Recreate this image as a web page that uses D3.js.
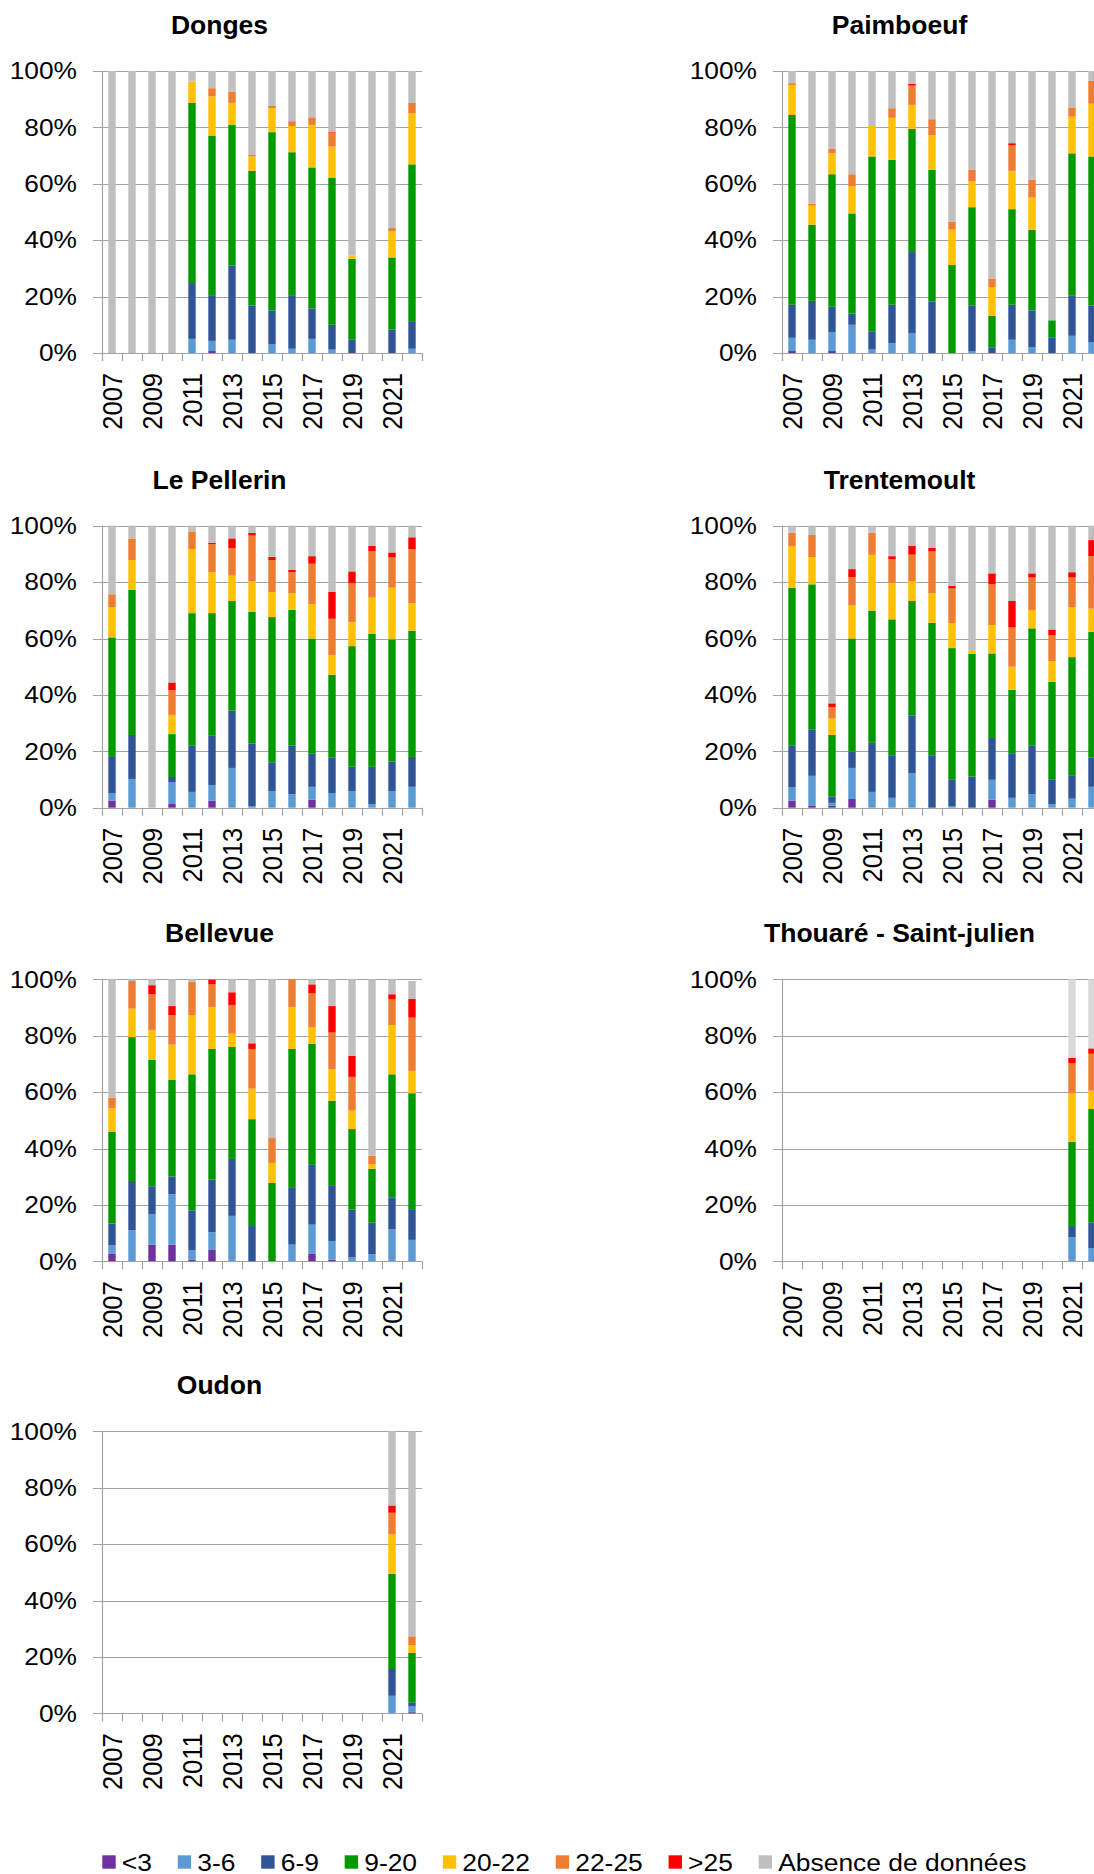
<!DOCTYPE html>
<html><head><meta charset="utf-8">
<script src="https://cdn.jsdelivr.net/npm/d3@7"></script>
<style>
body{margin:0;background:#fff}
svg{display:block}
text{font-family:"Liberation Sans",Arial,Helvetica,sans-serif;fill:#000}
</style>
</head><body>
<svg id="chart" width="1094" height="1874"></svg>
<script>
// ---------- DATA ----------
const years = ["2007","2008","2009","2010","2011","2012","2013","2014","2015","2016","2017","2018","2019","2020","2021","2022"];
const yearLabels = ["2007","2009","2011","2013","2015","2017","2019","2021"];
const yTicks = [0,20,40,60,80,100];
const seriesLabels = ["<3","3-6","6-9","9-20","20-22","22-25",">25","Absence de données"];
const seriesColors = ["#7030A0","#5B9BD5","#2F5597","#009900","#FFC000","#ED7D31","#FF0000","#BFBFBF"];
const siteNames = ["Donges","Paimboeuf","Le Pellerin","Trentemoult","Bellevue","Thouaré - Saint-julien","Oudon"];

// each site: one row per series (same order as seriesLabels), one value (%) per year
const donges = [
  [0,0,0,0,0,0.7,0,0,0,0,0,0,0,0,0,0],
  [0,0,0,0,5.0,3.6,4.7,0,3.1,1.5,5.0,1.2,0,0,0,1.5],
  [0,0,0,0,19.8,16.2,26.3,16.8,12.0,19.0,10.8,8.8,4.7,0,8.3,9.8],
  [0,0,0,0,63.9,56.6,49.9,47.8,63.2,50.7,50.0,52.2,28.7,0,25.6,55.6],
  [0,0,0,0,7.5,13.9,7.8,5.1,8.5,9.3,15.1,11.0,1.2,0,9.2,18.2],
  [0,0,0,0,0,2.9,3.9,0.7,0.8,1.7,2.7,5.0,0,0,1.2,3.6],
  [0,0,0,0,0,0,0,0,0,0,0,0.3,0,0,0,0],
  [100,100,100,100,3.8,6.1,7.4,29.6,12.4,17.8,16.4,21.5,65.4,100,55.7,11.3]
];
const paimboeuf = [
  [0.7,0,0.7,0,0,0,0,0,0,0,0,0,0,0,0,0],
  [4.7,4.7,6.7,10.0,1.2,3.5,7.1,0,0,0.7,0,4.7,2.0,0,6.1,3.9],
  [11.7,13.8,9.0,4.0,6.5,13.6,28.7,18.3,0,16.2,2.0,12.4,13.1,5.4,14.2,13.0],
  [67.3,27.0,47.0,35.5,62.0,51.4,43.7,46.6,31.2,34.8,11.2,33.9,28.6,6.2,50.5,52.8],
  [10.6,6.7,7.4,9.6,10.8,14.9,8.5,12.4,12.5,9.3,10.2,13.6,11.4,0,13.0,18.7],
  [0.7,0.7,1.6,4.3,0,3.4,6.8,5.6,2.9,3.9,3.0,9.0,6.3,0,3.3,8.2],
  [0,0,0,0,0,0,0.7,0,0,0,0,0.8,0,0,0,0],
  [4.3,47.1,27.6,36.6,19.5,13.2,4.5,17.1,53.4,35.1,73.6,25.6,38.6,88.4,12.9,3.4]
];
const lePellerin = [
  [2.5,0,0,1.3,0,2.5,0,0,0,0,2.8,0,0,0,0,0],
  [2.7,10.2,0,7.8,5.6,5.5,14.1,0.6,5.9,4.8,4.6,5.2,5.9,1.3,5.9,7.4],
  [12.8,15.6,0,1.8,16.4,17.5,20.3,22.1,10.2,17.2,11.7,12.5,8.6,13.2,10.5,10.6],
  [42.4,51.4,0,15.2,47.0,43.5,38.9,46.7,51.5,48.2,40.9,29.5,42.8,47.1,43.3,44.8],
  [10.6,10.6,0,6.8,22.7,14.5,9.0,11.0,8.9,5.8,12.1,6.9,8.5,12.9,18.3,9.7],
  [4.7,7.7,0,8.8,6.3,10.0,9.8,16.1,11.3,7.5,14.4,12.9,13.8,16.4,10.7,19.2],
  [0,0,0,2.7,0,0.5,3.4,1.0,1.1,0.8,2.7,9.5,4.2,1.9,1.8,4.2],
  [24.3,4.5,100,55.6,2.0,6.0,4.5,2.5,11.1,15.7,10.8,23.5,16.2,7.2,9.5,4.1]
];
const trentemoult = [
  [2.5,0.6,0.6,3.1,0,0,0,0,0,0,2.8,0,0,0,0,0],
  [4.8,10.7,1.1,11.0,5.6,3.5,12.2,0,0.6,0,7.1,3.5,4.8,1.3,3.2,7.4],
  [14.7,16.5,2.2,5.8,17.4,15.1,20.5,18.6,9.3,11.0,14.8,15.6,17.2,8.6,8.3,10.3],
  [56.0,51.4,21.9,40.1,46.9,48.2,40.6,47.0,46.7,43.6,30.0,22.7,41.6,34.7,41.9,44.7],
  [14.8,9.7,5.8,11.7,19.8,12.8,7.1,10.4,8.9,1.2,10.1,8.2,6.5,7.4,17.6,8.2],
  [4.7,7.8,4.0,10.1,7.8,8.5,9.3,14.9,12.2,0,14.4,13.9,11.5,9.2,10.6,18.6],
  [0,0,1.4,2.8,0,1.1,3.1,1.2,1.0,0,3.9,9.4,1.5,2.0,1.9,5.7],
  [2.5,3.3,63.0,15.4,2.5,10.8,7.2,7.9,21.3,44.2,16.9,26.7,16.9,36.8,16.5,5.1]
];
const bellevue = [
  [2.8,0,5.9,5.9,0.5,4.0,0,0,0,0,2.8,0.6,0,0,0,0],
  [2.9,11.0,10.9,17.9,3.5,6.3,16.1,0,0,5.9,10.2,6.5,1.4,2.5,11.4,7.6],
  [7.7,17.5,9.8,6.3,14.0,18.7,20.2,12.5,0,20.4,21.2,19.9,16.9,11.2,11.3,10.9],
  [32.6,51.0,44.8,34.3,48.3,46.3,39.7,37.9,27.8,49.0,43.0,29.9,28.6,19.1,43.6,41.1],
  [8.2,10.1,10.5,12.4,21.0,14.8,4.7,10.8,7.1,14.8,5.9,11.3,6.5,1.6,17.5,7.9],
  [3.9,9.8,12.8,10.5,11.8,8.1,10.2,14.1,8.8,9.9,12.0,12.9,12.0,3.1,9.2,18.9],
  [0,0,3.2,3.2,0,1.7,4.5,2.0,0,0,3.1,9.4,7.5,0,1.7,6.6],
  [41.9,0.6,2.1,9.5,0.9,0.1,4.6,22.7,56.3,0,1.8,9.5,27.1,62.5,5.3,6.4]
];
const thouare = [
  [null,null,null,null,null,null,null,null,null,null,null,null,null,null,0,0],
  [null,null,null,null,null,null,null,null,null,null,null,null,null,null,8.6,4.7],
  [null,null,null,null,null,null,null,null,null,null,null,null,null,null,3.9,9.1],
  [null,null,null,null,null,null,null,null,null,null,null,null,null,null,29.9,40.2],
  [null,null,null,null,null,null,null,null,null,null,null,null,null,null,17.1,6.5],
  [null,null,null,null,null,null,null,null,null,null,null,null,null,null,10.7,13.1],
  [null,null,null,null,null,null,null,null,null,null,null,null,null,null,2.0,1.9],
  [null,null,null,null,null,null,null,null,null,null,null,null,null,null,27.8,24.5]
];
const oudon = [
  [null,null,null,null,null,null,null,null,null,null,null,null,null,null,0,0.4],
  [null,null,null,null,null,null,null,null,null,null,null,null,null,null,6.2,2.0],
  [null,null,null,null,null,null,null,null,null,null,null,null,null,null,9.5,1.5],
  [null,null,null,null,null,null,null,null,null,null,null,null,null,null,33.8,17.5],
  [null,null,null,null,null,null,null,null,null,null,null,null,null,null,13.9,2.7],
  [null,null,null,null,null,null,null,null,null,null,null,null,null,null,7.7,3.2],
  [null,null,null,null,null,null,null,null,null,null,null,null,null,null,2.6,0],
  [null,null,null,null,null,null,null,null,null,null,null,null,null,null,26.3,72.7]
];
const siteData = [donges, paimboeuf, lePellerin, trentemoult, bellevue, thouare, oudon];

// ---------- LAYOUT / STYLE ----------
const panelCol = [0,1,0,1,0,1,0];
const panelRow = [0,0,1,1,2,2,3];
const colX = [102, 782];
const rowTop = [71, 525.7, 979.3, 1431.3];
const PW = 320, PH = 282;
const gridColor = "#a3a3a3";
const absenceOverride = {5: "#D9D9D9"}; // Thouaré photo is lighter

const svg = d3.select("#chart");

function stext(g, str, x, y, size, sx, anchor, weight, extra) {
  return g.append("text")
    .attr("transform", `translate(${x},${y}) scale(${sx},1)` + (extra || ""))
    .attr("text-anchor", anchor)
    .attr("dy", "0.35em")
    .style("font-size", size + "px")
    .style("font-weight", weight || "normal")
    .text(str);
}

const keys = seriesLabels.map((d, i) => i);

siteData.forEach((data, si) => {
  const x0 = colX[panelCol[si]];
  const top = rowTop[panelRow[si]];
  const bottom = top + PH;
  const g = svg.append("g");

  const x = d3.scaleBand().domain(years).range([x0, x0 + PW]).paddingInner(0.63).paddingOuter(0.315);
  const y = d3.scaleLinear().domain([0, 100]).range([bottom, top]);
  const step = x.step();

  // gridlines + y tick marks
  yTicks.forEach(t => {
    const yy = Math.round(y(t)) + 0.5;
    g.append("line").attr("x1", x0 - 9).attr("x2", x0 + PW).attr("y1", yy).attr("y2", yy)
      .attr("stroke", gridColor).attr("stroke-width", 1.2);
    stext(g, t + "%", x0 - 25, y(t), 23.5, 1.12, "end");
  });
  // y axis line
  g.append("line").attr("x1", x0 + 0.5).attr("x2", x0 + 0.5).attr("y1", top).attr("y2", bottom)
    .attr("stroke", gridColor).attr("stroke-width", 1.2);
  // x tick marks at category boundaries
  d3.range(years.length + 1).forEach(i => {
    const xx = Math.round(x0 + i * step) + 0.5;
    g.append("line").attr("x1", xx).attr("x2", xx).attr("y1", bottom).attr("y2", bottom + 8)
      .attr("stroke", gridColor).attr("stroke-width", 1.2);
  });
  // x labels
  yearLabels.forEach(yr => {
    const cx = x(yr) + x.bandwidth() / 2;
    stext(g, yr, cx, bottom + 20, 25.5, 1.1, "end", "normal", " rotate(-90)");
  });

  // stacked bars
  const rows = years.map((yr, yi) => {
    if (data[0][yi] == null) return null;
    const o = {year: yr};
    keys.forEach(k => o[k] = data[k][yi]);
    return o;
  }).filter(d => d);
  const stacked = d3.stack().keys(keys)(rows);
  stacked.forEach((layer, li) => {
    const col = (li === 7 && absenceOverride[si]) ? absenceOverride[si] : seriesColors[li];
    g.selectAll(null).data(layer.filter(d => d[1] - d[0] > 0)).enter().append("rect")
      .attr("x", d => x(d.data.year))
      .attr("width", x.bandwidth())
      .attr("y", d => y(d[1]))
      .attr("height", d => y(d[0]) - y(d[1]))
      .attr("fill", col);
  });

  // title
  stext(g, siteNames[si], x0 + 117.5, top - 37, 25.5, 1.04, "middle", "bold").attr("dy", null);
});

// ---------- LEGEND ----------
const lg = svg.append("g");
let lx = 102.3;
const ly = 1862;
const sq = 13.4;
seriesLabels.forEach((lab, i) => {
  lg.append("rect").attr("x", lx).attr("y", ly - sq / 2).attr("width", sq).attr("height", sq).attr("fill", seriesColors[i]);
  const t = stext(lg, lab, lx + 19.5, ly, 24.7, 1.07, "start");
  const w = t.node().getComputedTextLength() * 1.07;
  lx = lx + 19.5 + w + 25.8;
});
</script>
</body></html>
